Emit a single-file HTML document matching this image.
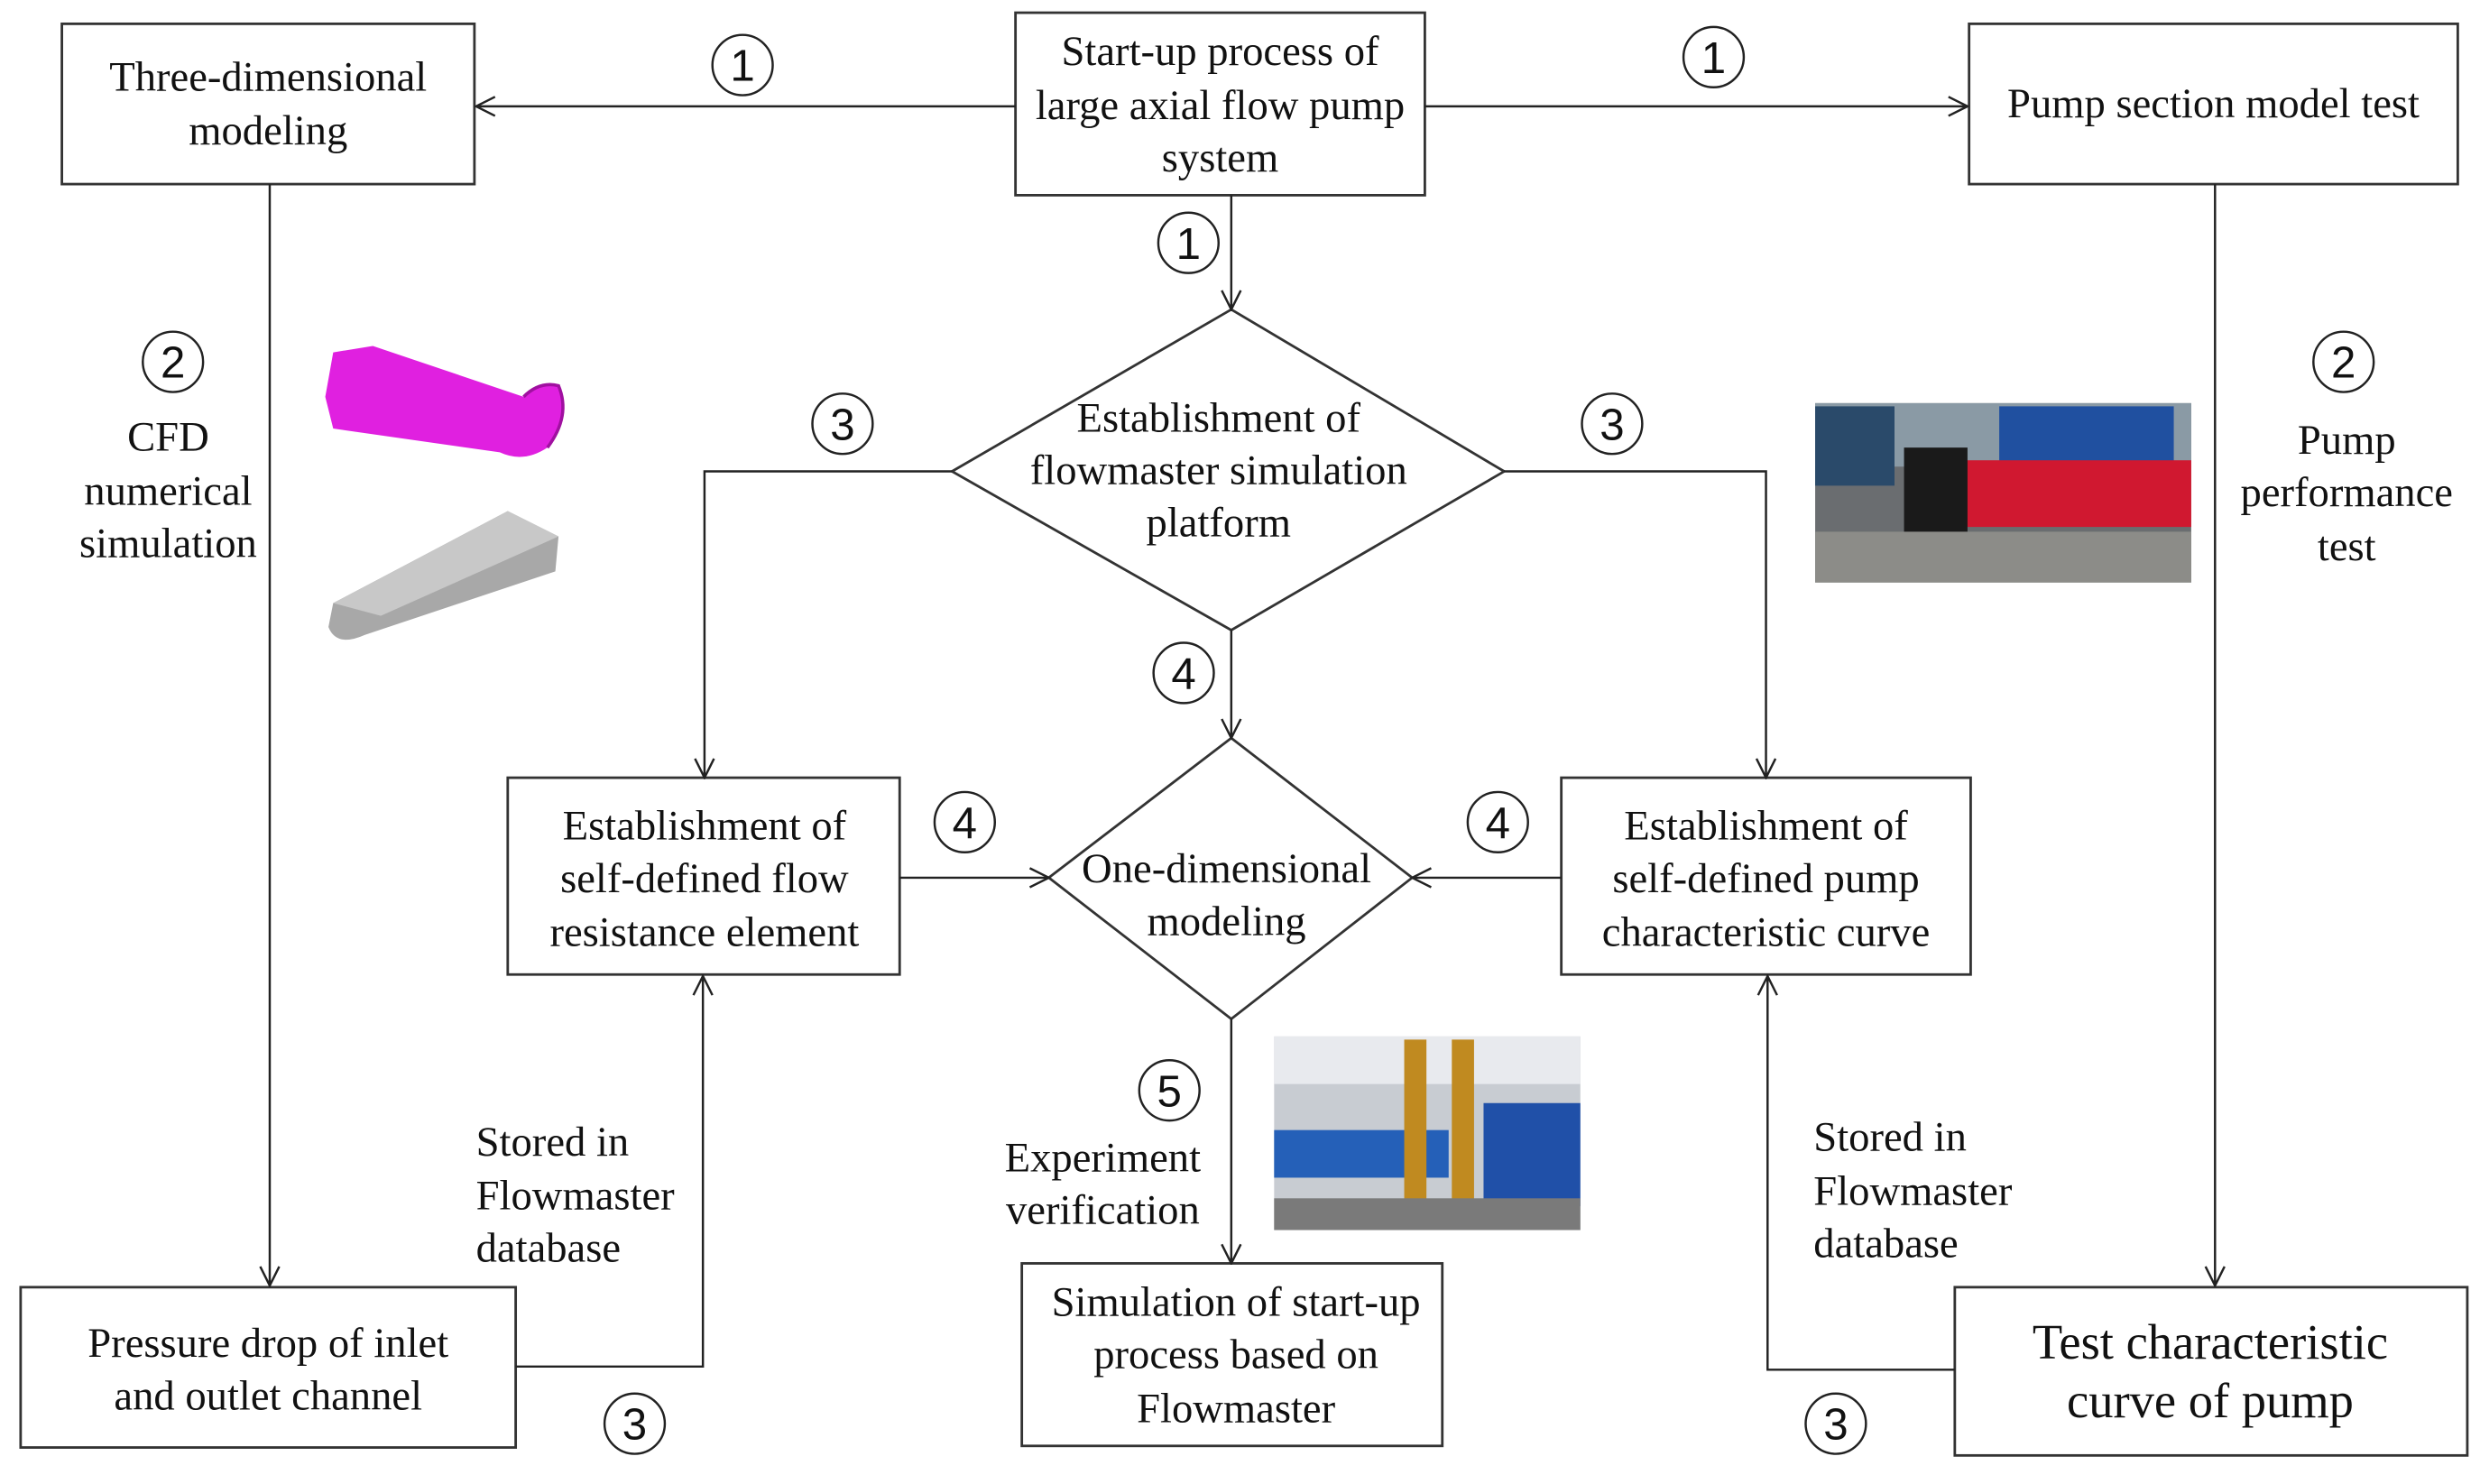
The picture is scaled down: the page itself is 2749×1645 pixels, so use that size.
<!DOCTYPE html>
<html><head><meta charset="utf-8"><style>
html,body{margin:0;padding:0;background:#fff;}
svg{display:block;}
text{font-family:"Liberation Serif",serif;font-size:26.5px;fill:#111;text-anchor:middle;}
.c text{font-family:"Liberation Sans",sans-serif;font-size:28px;}
</style></head><body>
<svg width="2749" height="1645" viewBox="0 0 1563 935" preserveAspectRatio="none" xmlns="http://www.w3.org/2000/svg">
<defs>
<marker id="a" markerWidth="14" markerHeight="14" refX="13" refY="7" orient="auto" markerUnits="userSpaceOnUse">
<path d="M1,1 L13,7 L1,13" fill="none" stroke="#222" stroke-width="1.4"/></marker>
</defs>
<g fill="none" stroke="#333" stroke-width="1.6">
<rect x="39" y="15" width="260" height="101"/>
<rect x="640" y="8" width="258" height="115"/>
<rect x="1241" y="15" width="308" height="101"/>
<rect x="320" y="490" width="247" height="124"/>
<rect x="984" y="490" width="258" height="124"/>
<rect x="644" y="796" width="265" height="115"/>
<rect x="13" y="811" width="312" height="101"/>
<rect x="1232" y="811" width="323" height="106"/>
<polygon points="776,195 948,297 776,397 600,297"/>
<polygon points="776,465 890,553 776,642 661,553"/>
</g>
<g fill="none" stroke="#222" stroke-width="1.4" marker-end="url(#a)">
<line x1="640" y1="67" x2="300" y2="67"/>
<line x1="898" y1="67" x2="1240" y2="67"/>
<line x1="776" y1="123" x2="776" y2="195"/>
<polyline points="600,297 444,297 444,490"/>
<polyline points="948,297 1113,297 1113,490"/>
<line x1="776" y1="397" x2="776" y2="465"/>
<line x1="567" y1="553" x2="661" y2="553"/>
<line x1="984" y1="553" x2="890" y2="553"/>
<line x1="776" y1="642" x2="776" y2="796"/>
<line x1="170" y1="116" x2="170" y2="810"/>
<polyline points="325,861 443,861 443,615"/>
<line x1="1396" y1="116" x2="1396" y2="810"/>
<polyline points="1232,863 1114,863 1114,615"/>
</g>
<g class="c">
<g fill="none" stroke="#222" stroke-width="1.4">
<circle cx="468" cy="41" r="19"/><circle cx="1080" cy="36" r="19"/><circle cx="749" cy="153" r="19"/>
<circle cx="531" cy="267" r="19"/><circle cx="1016" cy="267" r="19"/><circle cx="746" cy="424" r="19"/>
<circle cx="608" cy="518" r="19"/><circle cx="944" cy="518" r="19"/><circle cx="737" cy="687" r="19"/>
<circle cx="109" cy="228" r="19"/><circle cx="1477" cy="228" r="19"/><circle cx="400" cy="897" r="19"/><circle cx="1157" cy="897" r="19"/>
</g>
<text x="468" y="51">1</text><text x="1080" y="46">1</text><text x="749" y="163">1</text>
<text x="531" y="277">3</text><text x="1016" y="277">3</text><text x="746" y="434">4</text>
<text x="608" y="528">4</text><text x="944" y="528">4</text><text x="737" y="697">5</text>
<text x="109" y="238">2</text><text x="1477" y="238">2</text><text x="400" y="907">3</text><text x="1157" y="907">3</text>
</g>
<text x="169" y="57">Three-dimensional</text><text x="169" y="91">modeling</text>
<text x="769" y="41">Start-up process of</text><text x="769" y="75">large axial flow pump</text><text x="769" y="108">system</text>
<text x="1395" y="74">Pump section model test</text>
<text x="768" y="272">Establishment of</text><text x="768" y="305">flowmaster simulation</text><text x="768" y="338">platform</text>
<text x="773" y="556">One-dimensional</text><text x="773" y="589">modeling</text>
<text x="444" y="529">Establishment of</text><text x="444" y="562">self-defined flow</text><text x="444" y="596">resistance element</text>
<text x="1113" y="529">Establishment of</text><text x="1113" y="562">self-defined pump</text><text x="1113" y="596">characteristic curve</text>
<text x="779" y="829">Simulation of start-up</text><text x="779" y="862">process based on</text><text x="779" y="896">Flowmaster</text>
<text x="169" y="855">Pressure drop of inlet</text><text x="169" y="888">and outlet channel</text>
<text x="1393" y="856" style="font-size:31px">Test characteristic</text><text x="1393" y="893" style="font-size:31px">curve of pump</text>
<text x="106" y="284">CFD</text><text x="106" y="318">numerical</text><text x="106" y="351">simulation</text>
<text x="1479" y="286">Pump</text><text x="1479" y="319">performance</text><text x="1479" y="353">test</text>
<text x="695" y="738">Experiment</text><text x="695" y="771">verification</text>
<text x="300" y="728" style="text-anchor:start">Stored in</text><text x="300" y="762" style="text-anchor:start">Flowmaster</text><text x="300" y="795" style="text-anchor:start">database</text>
<text x="1143" y="725" style="text-anchor:start">Stored in</text><text x="1143" y="759" style="text-anchor:start">Flowmaster</text><text x="1143" y="792" style="text-anchor:start">database</text>
<!-- 3D shapes -->
<path d="M210,222 L235,218 L330,250 Q340,240 352,243 Q360,262 345,282 Q330,292 315,285 L210,270 L205,250 Z" fill="#e020e0"/>
<path d="M330,250 Q340,240 352,243 Q360,262 345,282" fill="none" stroke="#a010a0" stroke-width="2"/>
<path d="M210,380 L320,322 L352,338 L350,360 L230,400 Q212,408 207,395 Z" fill="#a8a8a8"/>
<path d="M210,380 L320,322 L352,338 L240,388 Z" fill="#c8c8c8"/>
<!-- photo right -->
<rect x="1144" y="254" width="237" height="113" fill="#6a6d70"/>
<rect x="1144" y="254" width="237" height="40" fill="#8a9aa5"/>
<rect x="1260" y="256" width="110" height="40" fill="#2050a0"/>
<rect x="1144" y="256" width="50" height="50" fill="#2a4a6a"/>
<rect x="1220" y="290" width="161" height="42" fill="#d01830"/>
<rect x="1200" y="282" width="40" height="58" fill="#1a1a1a"/>
<rect x="1144" y="335" width="237" height="32" fill="#8c8c88"/>
<!-- photo bottom -->
<rect x="803" y="653" width="193" height="122" fill="#c8ccd2"/>
<rect x="803" y="653" width="193" height="30" fill="#e8eaee"/>
<rect x="803" y="712" width="110" height="30" fill="#2560b8"/>
<rect x="935" y="695" width="61" height="65" fill="#2050a8"/>
<rect x="885" y="655" width="14" height="120" fill="#c08a20"/>
<rect x="915" y="655" width="14" height="120" fill="#c08a20"/>
<rect x="803" y="755" width="193" height="20" fill="#7a7a7a"/>
</svg>
</body></html>
